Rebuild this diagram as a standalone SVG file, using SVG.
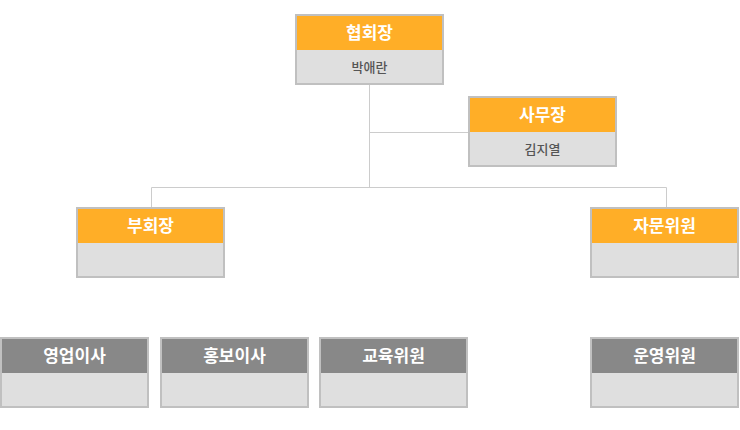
<svg xmlns="http://www.w3.org/2000/svg" width="740" height="430" viewBox="0 0 740 430">
<style>
.bd{fill:#c0c0c0}
.ho{fill:#ffae27}
.hg{fill:#888888}
.bo{fill:#dfdfdf}
.t{font-family:"Noto Sans CJK KR","Noto Sans",sans-serif;font-size:17px;font-weight:bold;fill:#ffffff;text-anchor:middle}
.n{font-family:"Noto Sans CJK KR","Noto Sans",sans-serif;font-size:13px;font-weight:500;fill:#555555;text-anchor:middle}
.c{stroke:#cccccc;stroke-width:1;fill:none}
</style>
<rect width="740" height="430" fill="#ffffff"/>
<g id="connectors">
<path class="c" d="M369.5 85 V187.5 M369.5 132.5 H468 M151.5 187.5 H666.5 M151.5 187.5 V207 M666.5 187.5 V207"/>
</g>
<g id="n1"><rect class="bd" x="295" y="14" width="149" height="71"/><rect class="ho" x="297" y="16" width="145" height="34"/><rect class="bo" x="297" y="50" width="145" height="33"/><text class="t" x="369.5" y="39">협회장</text><text class="n" x="369.5" y="72">박애란</text></g>
<g id="n2"><rect class="bd" x="468" y="96" width="149" height="71"/><rect class="ho" x="470" y="98" width="145" height="34"/><rect class="bo" x="470" y="132" width="145" height="33"/><text class="t" x="542.5" y="121">사무장</text><text class="n" x="542.5" y="154">김지열</text></g>
<g id="n3"><rect class="bd" x="76" y="207" width="149" height="71"/><rect class="ho" x="78" y="209" width="145" height="34"/><rect class="bo" x="78" y="243" width="145" height="33"/><text class="t" x="150.5" y="232">부회장</text></g>
<g id="n4"><rect class="bd" x="590" y="207" width="149" height="71"/><rect class="ho" x="592" y="209" width="145" height="34"/><rect class="bo" x="592" y="243" width="145" height="33"/><text class="t" x="664.5" y="232">자문위원</text></g>
<g id="n5"><rect class="bd" x="0" y="337" width="149" height="71"/><rect class="hg" x="2" y="339" width="145" height="34"/><rect class="bo" x="2" y="373" width="145" height="33"/><text class="t" x="74.5" y="362">영업이사</text></g>
<g id="n6"><rect class="bd" x="160" y="337" width="149" height="71"/><rect class="hg" x="162" y="339" width="145" height="34"/><rect class="bo" x="162" y="373" width="145" height="33"/><text class="t" x="234.5" y="362">홍보이사</text></g>
<g id="n7"><rect class="bd" x="319" y="337" width="149" height="71"/><rect class="hg" x="321" y="339" width="145" height="34"/><rect class="bo" x="321" y="373" width="145" height="33"/><text class="t" x="393.5" y="362">교육위원</text></g>
<g id="n8"><rect class="bd" x="590" y="337" width="149" height="71"/><rect class="hg" x="592" y="339" width="145" height="34"/><rect class="bo" x="592" y="373" width="145" height="33"/><text class="t" x="664.5" y="362">운영위원</text></g>
</svg>
